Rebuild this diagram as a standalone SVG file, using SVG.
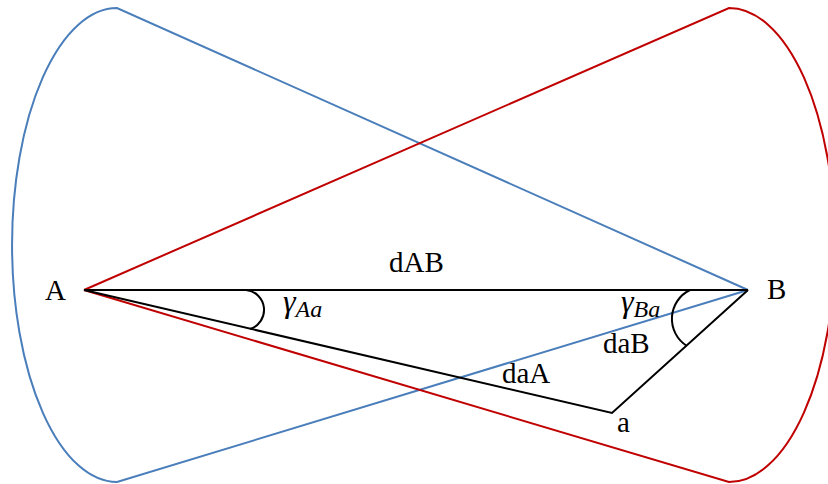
<svg xmlns="http://www.w3.org/2000/svg" width="828" height="484" viewBox="0 0 828 484">
<style>
.blue{fill:none;stroke:#4a7ebb;stroke-width:2}
.red{fill:none;stroke:#c00000;stroke-width:2}
.blk{fill:none;stroke:#000;stroke-width:2}
.t{font-family:"Liberation Serif","Times New Roman",serif;font-size:29px;fill:#000}
.g{font-family:"Liberation Serif","Times New Roman",serif;font-style:italic;fill:#000}
</style>
<rect width="828" height="484" fill="#fff"/>
<g id="coneA">
<path class="blue" d="M748,290 L117,8 A105,237 0 0 0 117,482 L748,290"/>
</g>
<g id="coneB">
<path class="red" d="M84,290 L729,8 A106,237 0 0 1 729,482 L84,290"/>
</g>
<g id="connectors">
<path class="blk" d="M84,290 L748,290"/>
<path class="blk" d="M84,290 L612,413 L748,290"/>
<path class="blk" d="M246,290 A20,20 0 0 1 250,329"/>
<path class="blk" d="M690,290 A32,32 0 0 0 687,346"/>
</g>
<g id="A"><text class="t" x="45" y="300">A</text></g>
<g id="B"><text class="t" x="767" y="299">B</text></g>
<g id="a"><text class="t" x="617" y="432">a</text></g>
<g id="labels">
<text class="t" x="389" y="272">dAB</text>
<text class="t" x="502" y="383">daA</text>
<text class="t" x="603" y="353">daB</text>
<text class="g" x="283" y="312" font-size="32">γ<tspan font-size="24" dy="5">Aa</tspan></text>
<text class="g" x="621" y="312" font-size="32">γ<tspan font-size="24" dy="5">Ba</tspan></text>
</g>
</svg>
